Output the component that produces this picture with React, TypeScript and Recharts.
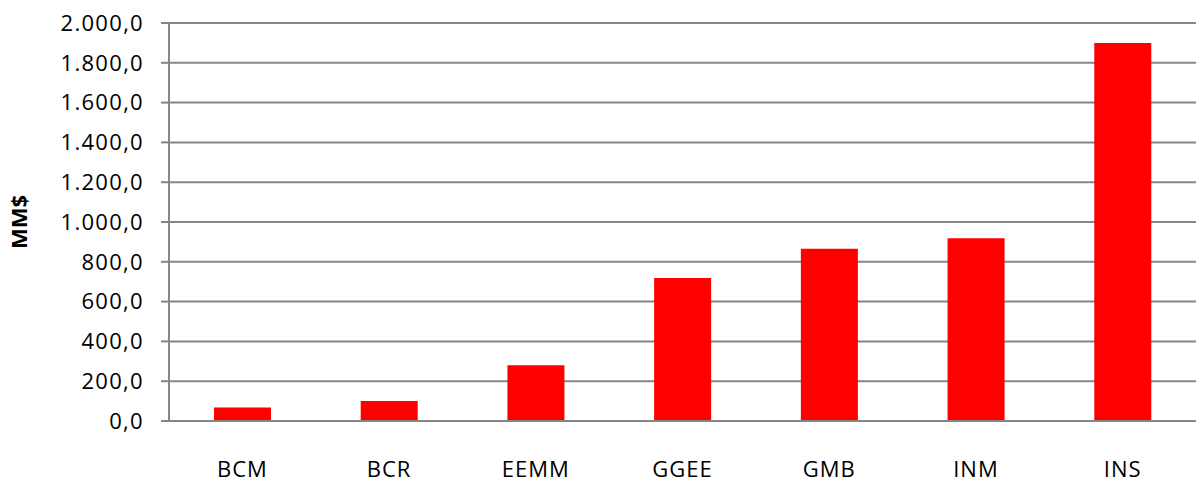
import React from "react";
import { BarChart, Bar, XAxis, YAxis, CartesianGrid } from "recharts";

const categories = ["BCM", "BCR", "EEMM", "GGEE", "GMB", "INM", "INS"];
const values = [68, 100, 280, 718, 866, 918, 1899];
const yTicks = [0, 200, 400, 600, 800, 1000, 1200, 1400, 1600, 1800, 2000];

const data = categories.map((c, i) => ({ name: c, value: values[i] }));

const fmt = (v: number) =>
  v.toLocaleString("de-DE", { minimumFractionDigits: 1, maximumFractionDigits: 1 });

const FONT = "'Open Sans', sans-serif";
const GRAY = "#868686";

export default function App() {
  return (
    <div style={{ position: "absolute", left: 0, top: 0, width: 1204, height: 484, background: "#fff" }}>
      <BarChart
        width={1204}
        height={484}
        data={data}
        margin={{ top: 23, right: 8, bottom: 0, left: 0 }}
        barSize={57}
      >
        <CartesianGrid vertical={false} stroke={GRAY} strokeWidth={2} />
        <XAxis
          dataKey="name"
          height={63}
          tickLine={false}
          axisLine={{ stroke: GRAY, strokeWidth: 2 }}
          tickMargin={34}
          tick={{ fill: "#000", fontSize: 22, fontFamily: FONT, letterSpacing: 1 }}
        />
        <YAxis
          width={169}
          domain={[0, 2000]}
          ticks={yTicks}
          interval={0}
          tickFormatter={fmt}
          tickSize={8}
          tickMargin={17}
          tickLine={{ stroke: GRAY, strokeWidth: 2 }}
          axisLine={{ stroke: GRAY, strokeWidth: 2 }}
          tick={{ fill: "#000", fontSize: 22, fontFamily: FONT, letterSpacing: 1.3 }}
          label={{
            value: "MM$",
            angle: -90,
            position: "insideLeft",
            offset: 19,
            style: { fontSize: 22, fontWeight: "bold", fontFamily: FONT, fill: "#000", textAnchor: "middle" },
          }}
        />
        <Bar dataKey="value" fill="#FF0000" isAnimationActive={false} />
      </BarChart>
    </div>
  );
}
